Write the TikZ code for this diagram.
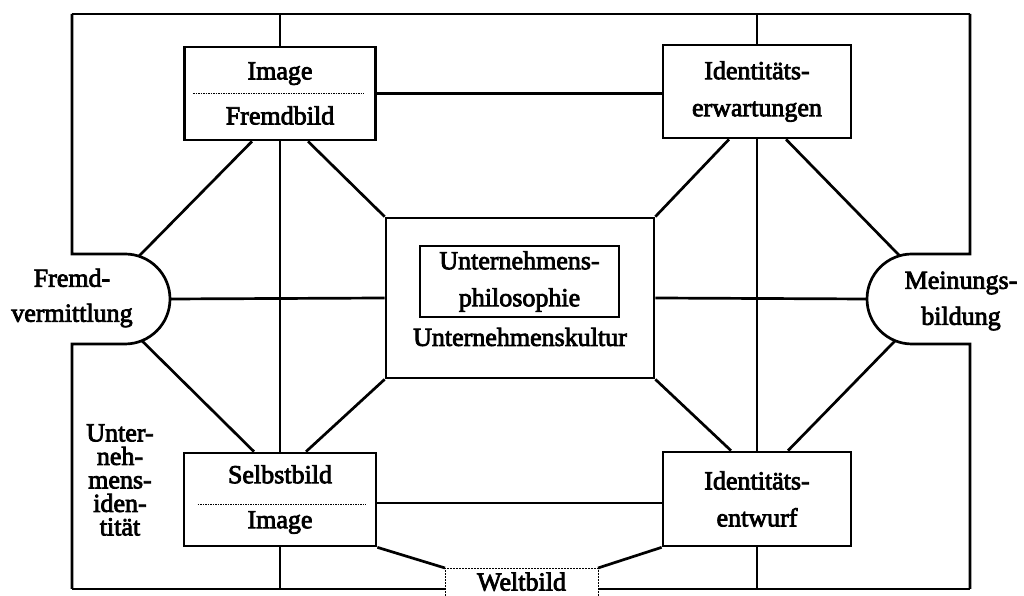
\documentclass[tikz,border=0pt]{standalone}
\usepackage{fontspec}
\setmainfont{Liberation Serif}[FakeBold=3]
\usetikzlibrary{calc}
\begin{document}
\begin{tikzpicture}[x=1pt,y=1pt,
  txt/.style={align=center,inner sep=0pt,font=\fontsize{26}{37}\selectfont},
  box/.style={txt,draw,line width=2.7pt},
  sepbox/.style={box,font=\fontsize{26}{45}\selectfont},
  conn/.style={line width=2.7pt,line join=miter},
  sep/.style={line width=0.7pt,dash pattern=on 1.5pt off 1pt},
  thinbox/.style={txt,draw,line width=1.8pt}]
\useasboundingbox[fill=white] (0,0) rectangle (1024,596);
% frame corners
\coordinate (TL) at (72,582);
\coordinate (TR) at (970,582);
\coordinate (BL) at (72,7);
\coordinate (BR) at (970,7);
% boxes
\node[sepbox,minimum width=191pt,minimum height=93pt] (imgF) at (280,502.5) {Image\\Fremdbild};
\node[box,minimum width=188pt,minimum height=93pt] (idE) at (757,504.5) {Identitäts-\\erwartungen};
\node[box,minimum width=268pt,minimum height=160pt] (cen) at (520,298) {};
\node[thinbox,minimum width=199pt,minimum height=71pt] (phil) at (519.5,314.5) {Unternehmens-\\philosophie};
\node[txt] (kult) at (520,259) {Unternehmenskultur};
\node[sepbox,minimum width=192pt,minimum height=93pt] (selbst) at (280,96.5) {Selbstbild\\Image};
\node[box,minimum width=188pt,minimum height=94pt] (idEnt) at (757,97) {Identitäts-\\entwurf};
% separators
\draw[sep] ([xshift=10pt,yshift=0pt]imgF.west) -- ([xshift=-13pt,yshift=0pt]imgF.east);
\draw[sep] ([xshift=15pt,yshift=-5pt]selbst.west) -- ([xshift=-12pt,yshift=-5pt]selbst.east);
% side half-round shapes
\coordinate (fvc) at (125,297);
\coordinate (mbc) at (912,297);
\node[txt,font=\fontsize{26}{35}\selectfont] (fv) at (72,298) {Fremd-\\vermittlung};
\node[txt,font=\fontsize{26}{36}\selectfont] (mb) at (961,295) {Meinungs-\\bildung};
\coordinate (fvTop) at (72,342);
\coordinate (fvBot) at (72,252);
\coordinate (mbTop) at (970,342);
\coordinate (mbBot) at (970,252);
\draw[conn] (TL) -- (fvTop) -- ++(53,0) arc (90:-90:45) -- (fvBot) -- (BL);
\draw[conn] (TR) -- (mbTop) -- ++(-58,0) arc (90:270:45) -- (mbBot) -- (BR);
% Weltbild
\coordinate (wTL) at (445,28);
\coordinate (wTR) at (598,28);
\coordinate (wBL) at (445,7);
\coordinate (wBR) at (598,7);
\node[txt,anchor=base] (welt) at (521.5,5.5) {Weltbild};
\draw[line width=0.9pt,dash pattern=on 2pt off 1pt] (445,0) -- (wTL) -- (wTR) -- (598,0);
% frame top / bottom
\draw[conn] (TL) -- (TR);
\draw[conn] (BL) -- (wBL);
\draw[conn] (wBR) -- (BR);
% verticals
\draw[conn] (imgF.north |- TL) -- (imgF.north);
\draw[conn] (imgF.south) -- (selbst.north);
\draw[conn] (selbst.south) -- (selbst.south |- BL);
\draw[conn] (idE.north |- TR) -- (idE.north);
\draw[conn] (idE.south) -- (idEnt.north);
\draw[conn] (idEnt.south) -- (idEnt.south |- BR);
% horizontals
\coordinate (sE) at ([yshift=-3.5pt]selbst.east);
\draw[conn] (imgF.east) -- (idE.west |- imgF.east);
\draw[conn] (sE) -- (idEnt.west |- sE);
\draw[conn] ($(fvc)+(45,0)$) -- (cen.west);
\draw[conn] (cen.east) -- ($(mbc)+(-45,0)$);
% diagonals
\draw[conn] ([xshift=-28pt]imgF.south) -- ($(fvc)+(72:45)$);
\draw[conn] ([xshift=28pt]imgF.south) -- (cen.north west);
\draw[conn] ([xshift=-28pt]idE.south) -- (cen.north east);
\draw[conn] ([xshift=29pt]idE.south) -- ($(mbc)+(106:45)$);
\draw[conn] ([xshift=-26pt]selbst.north) -- ($(fvc)+(-68:45)$);
\draw[conn] ([xshift=26pt]selbst.north) -- (cen.south west);
\draw[conn] ([xshift=-26pt]idEnt.north) -- (cen.south east);
\draw[conn] ([xshift=31pt]idEnt.north) -- ($(mbc)+(-112:45)$);
\draw[conn] (selbst.south east) -- (wTL);
\draw[conn] (idEnt.south west) -- (wTR);
% left label
\node[txt,font=\fontsize{26}{23.5}\selectfont] (ui) at (120,116) {Unter-\\neh-\\mens-\\iden-\\tität};
\end{tikzpicture}
\end{document}
